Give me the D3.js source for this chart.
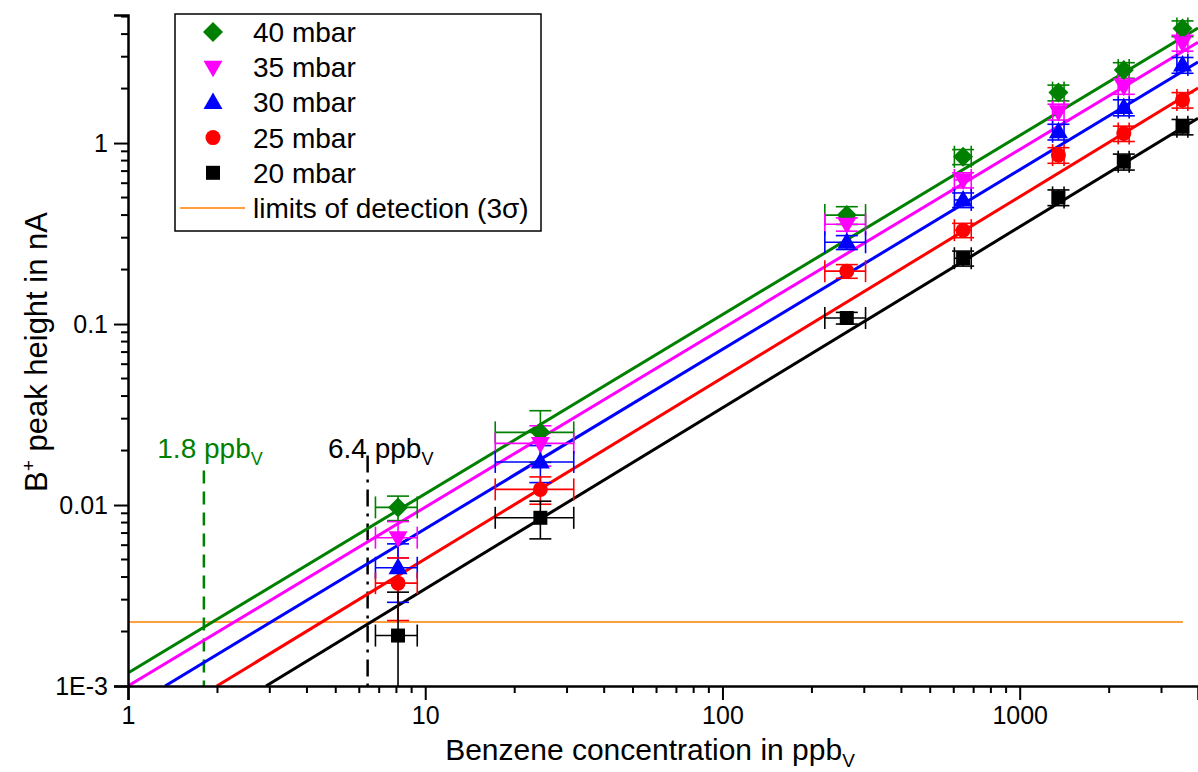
<!DOCTYPE html>
<html lang="en">
<head>
    <meta charset="UTF-8">
    <title>Benzene calibration</title>
    <script src="https://d3js.org/d3.v7.min.js"></script>
    <style>
        body { margin: 0; background: #fff; }
        text { font-family: Arial, "Liberation Sans", sans-serif; }
    </style>
</head>
<body>
    <svg id="chart"></svg>

    <script>
        // Data
        const concentrations = [8.1, 24.4, 262, 645, 1350, 2240, 3530];
        const concErrors = [1.3, 7.2, 41, 42, 60, 95, 150];

        const seriesNames = ["40 mbar", "35 mbar", "30 mbar", "25 mbar", "20 mbar"];
        const seriesColors = ["#008000", "#ff00ff", "#0000ff", "#ff0000", "#000000"];
        const seriesShapes = ["diamond", "triangleDown", "triangleUp", "circle", "square"];

        const values40 = [0.0097, 0.0252, 0.40, 0.84, 1.9, 2.53, 4.3];
        const values35 = [0.0066, 0.0219, 0.356, 0.625, 1.49, 2.06, 3.58];
        const values30 = [0.0045, 0.0173, 0.283, 0.485, 1.155, 1.574, 2.7];
        const values25 = [0.0037, 0.0122, 0.196, 0.33, 0.858, 1.13, 1.73];
        const values20 = [0.0019, 0.0085, 0.108, 0.231, 0.501, 0.789, 1.23];

        const errors40 = [0.0015, 0.008, 0.045, 0.08, 0.19, 0.25, 0.43];
        const errors35 = [0.0015, 0.0055, 0.03, 0.06, 0.15, 0.2, 0.36];
        const errors30 = [0.0016, 0.004, 0.025, 0.045, 0.115, 0.16, 0.27];
        const errors25 = [0.0014, 0.0021, 0.017, 0.03, 0.085, 0.11, 0.17];
        const errors20 = [0.0014, 0.002, 0.008, 0.022, 0.05, 0.08, 0.12];

        // power law fits y = a * x^b
        const fitA = [0.00118, 0.001, 0.000752, 0.000502, 0.000343];
        const fitB = [0.99, 0.988, 0.992, 1.001, 1.0006];

        const detectionLimit = 0.00226;
        const detectionRange = [1, 3540];
        const lodConcs = [1.8, 6.4];
        const lodLabels = ["1.8 ppb", "6.4 ppb"];
        const lodColors = ["#008000", "#000000"];

        const xMajorTicks = [1, 10, 100, 1000];
        const yMajorTicks = [0.001, 0.01, 0.1, 1];
        const yTickLabels = ["1E-3", "0.01", "0.1", "1"];

        const allValues = [values40, values35, values30, values25, values20];
        const allErrors = [errors40, errors35, errors30, errors25, errors20];

        const width = 1198, height = 772;
        const svg = d3.select("#chart")
            .attr("width", width)
            .attr("height", height);

        const x = d3.scaleLog().domain([1, 3980]).range([128, 1198]);
        const y = d3.scaleLog().domain([0.001, 5.1]).range([686, 15]);

        // minor ticks 2..9 in every decade
        function minorTicks(scale) {
            const [d0, d1] = scale.domain();
            const out = [];
            for (let p = Math.floor(Math.log10(d0)); p <= Math.ceil(Math.log10(d1)); p++) {
                for (let m = 2; m <= 9; m++) {
                    const v = m * Math.pow(10, p);
                    if (v >= d0 && v <= d1) out.push(v);
                }
            }
            return out;
        }

        svg.append("defs").append("clipPath").attr("id", "plot")
            .append("rect")
            .attr("x", 128).attr("y", 0)
            .attr("width", width - 128).attr("height", 686);

        const plot = svg.append("g").attr("clip-path", "url(#plot)");

        // detection limit line
        plot.append("line")
            .attr("x1", x(detectionRange[0])).attr("x2", x(detectionRange[1]))
            .attr("y1", y(detectionLimit)).attr("y2", y(detectionLimit))
            .attr("stroke", "#ff8000").attr("stroke-width", 1.5);

        // vertical LOD markers
        const lodTop = [0.0155, 0.0188];
        lodConcs.forEach((c, i) => {
            plot.append("line")
                .attr("x1", x(c)).attr("x2", x(c))
                .attr("y1", y(lodTop[i])).attr("y2", y(0.001))
                .attr("stroke", lodColors[i]).attr("stroke-width", 2.5)
                .attr("stroke-dasharray", i === 0 ? "13,8" : "17,7,3,7");
        });

        // fit lines
        fitA.forEach((a, i) => {
            const b = fitB[i];
            const xStart = Math.max(1, Math.pow(0.001 / a, 1 / b));
            const xEnd = x.domain()[1];
            plot.append("path")
                .datum([xStart, xEnd])
                .attr("d", d3.line().x(d => x(d)).y(d => y(a * Math.pow(d, b))))
                .attr("fill", "none")
                .attr("stroke", seriesColors[i])
                .attr("stroke-width", 3);
        });

        // marker shapes
        function shapePath(shape, r) {
            switch (shape) {
                case "diamond": return `M0,${-r}L${r},0L0,${r}L${-r},0Z`;
                case "triangleUp": return `M0,${-r}L${r * 0.95},${r * 0.65}L${-r * 0.95},${r * 0.65}Z`;
                case "triangleDown": return `M0,${r}L${r * 0.95},${-r * 0.65}L${-r * 0.95},${-r * 0.65}Z`;
                case "square": return `M${-r * 0.7},${-r * 0.7}H${r * 0.7}V${r * 0.7}H${-r * 0.7}Z`;
                default: return d3.arc()({ innerRadius: 0, outerRadius: r * 0.75, startAngle: 0, endAngle: 2 * Math.PI });
            }
        }

        const cap = 11;
        allValues.forEach((vals, s) => {
            const g = plot.append("g").attr("stroke", seriesColors[s]).attr("stroke-width", 1.6);
            vals.forEach((v, k) => {
                const cx = x(concentrations[k]), cy = y(v);
                const xl = x(concentrations[k] - concErrors[k]), xr = x(concentrations[k] + concErrors[k]);
                const lowVal = Math.max(v - allErrors[s][k], 0.0005);
                const yt = y(v + allErrors[s][k]), yb = y(lowVal);
                g.append("line").attr("x1", xl).attr("x2", xr).attr("y1", cy).attr("y2", cy);
                g.append("line").attr("x1", xl).attr("x2", xl).attr("y1", cy - cap).attr("y2", cy + cap);
                g.append("line").attr("x1", xr).attr("x2", xr).attr("y1", cy - cap).attr("y2", cy + cap);
                g.append("line").attr("x1", cx).attr("x2", cx).attr("y1", yt).attr("y2", yb);
                g.append("line").attr("x1", cx - cap).attr("x2", cx + cap).attr("y1", yt).attr("y2", yt);
                g.append("line").attr("x1", cx - cap).attr("x2", cx + cap).attr("y1", yb).attr("y2", yb);
            });
        });
        allValues.forEach((vals, s) => {
            plot.append("g").selectAll("path")
                .data(vals)
                .join("path")
                .attr("transform", (d, k) => `translate(${x(concentrations[k])},${y(d)})`)
                .attr("d", shapePath(seriesShapes[s], 10))
                .attr("fill", seriesColors[s]);
        });

        // axes
        const fontSize = 25;
        const xAxis = svg.append("g").attr("transform", "translate(0,686)")
            .call(d3.axisBottom(x).tickValues(xMajorTicks).tickFormat(d3.format("d")).tickSize(14).tickPadding(6));
        xAxis.append("g").selectAll("line").data(minorTicks(x)).join("line")
            .attr("x1", d => x(d)).attr("x2", d => x(d)).attr("y1", 0).attr("y2", 7)
            .attr("stroke", "#000").attr("stroke-width", 2);

        const yAxis = svg.append("g").attr("transform", "translate(128,0)")
            .call(d3.axisLeft(y).tickValues(yMajorTicks).tickFormat((d, i) => yTickLabels[i]).tickSize(14).tickPadding(6));
        yAxis.append("g").selectAll("line").data(minorTicks(y)).join("line")
            .attr("y1", d => y(d)).attr("y2", d => y(d)).attr("x1", 0).attr("x2", -7)
            .attr("stroke", "#000").attr("stroke-width", 2);

        svg.selectAll(".domain").attr("stroke-width", 2.5);
        svg.selectAll(".tick line").attr("stroke-width", 2);
        svg.selectAll(".tick text").attr("font-size", fontSize).attr("fill", "#000")
            .attr("font-family", "Arial, 'Liberation Sans', sans-serif");

        // axis titles
        const xTitle = svg.append("text")
            .attr("x", 650).attr("y", 760)
            .attr("text-anchor", "middle").attr("font-size", 30);
        xTitle.append("tspan").text("Benzene concentration in ppb");
        xTitle.append("tspan").attr("font-size", 19).attr("dy", 7).text("V");

        const yTitle = svg.append("text")
            .attr("transform", "translate(47,352) rotate(-90)")
            .attr("text-anchor", "middle").attr("font-size", 31);
        yTitle.append("tspan").text("B");
        yTitle.append("tspan").attr("font-size", 19).attr("dy", -12).text("+");
        yTitle.append("tspan").attr("dy", 12).text(" peak height in nA");

        // LOD labels
        const lodLabelPos = [[210, "middle"], [328, "start"]];
        lodLabels.forEach((t, i) => {
            const tx = svg.append("text")
                .attr("x", lodLabelPos[i][0]).attr("y", 458)
                .attr("text-anchor", lodLabelPos[i][1])
                .attr("font-size", 28).attr("fill", lodColors[i]);
            tx.append("tspan").text(t);
            tx.append("tspan").attr("font-size", 18).attr("dy", 7).text("V");
        });

        // legend
        const legend = svg.append("g");
        legend.append("rect")
            .attr("x", 175).attr("y", 14).attr("width", 366).attr("height", 217)
            .attr("fill", "#fff").attr("stroke", "#000").attr("stroke-width", 1.5);
        seriesNames.forEach((name, i) => {
            const ly = 32 + i * 35.2;
            legend.append("path")
                .attr("transform", `translate(213,${ly})`)
                .attr("d", shapePath(seriesShapes[i], 10))
                .attr("fill", seriesColors[i]);
            legend.append("text")
                .attr("x", 253).attr("y", ly + 10)
                .attr("font-size", 28).text(name);
        });
        const lodY = 32 + 5 * 35.2;
        legend.append("line")
            .attr("x1", 180).attr("x2", 245).attr("y1", lodY).attr("y2", lodY)
            .attr("stroke", "#ff8000").attr("stroke-width", 1.5);
        legend.append("text")
            .attr("x", 253).attr("y", lodY + 10)
            .attr("font-size", 28).text("limits of detection (3σ)");
    </script>
</body>
</html>
